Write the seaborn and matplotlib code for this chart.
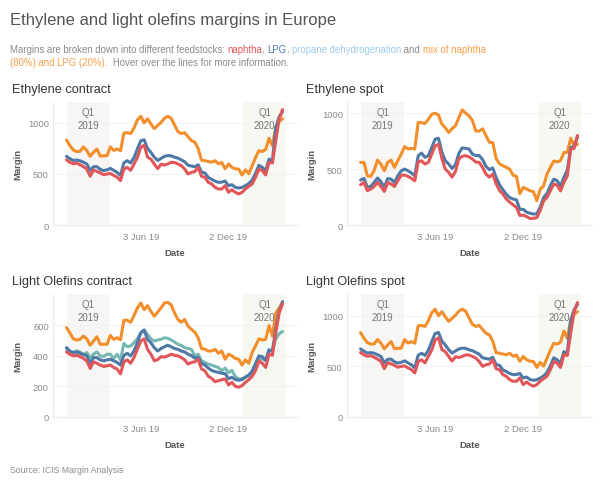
import matplotlib
matplotlib.use("Agg")
import matplotlib.pyplot as plt
from matplotlib.transforms import IdentityTransform
import pandas as pd
import seaborn as sns

sns.set_theme(style="white")
plt.rcParams["font.family"] = ["Liberation Sans", "DejaVu Sans"]

# ── Data (weekly margins) ────────────────────────────────────────────────────
weeks = pd.date_range("2018-12-31", periods=65, freq="7D")

eth_contract_mix = [
    833, 778, 735, 720, 722, 765, 730, 673, 712, 745, 675, 678, 680, 765, 730, 745,
    728, 900, 905, 895, 950, 1030, 1065, 1000, 1040, 990, 945, 975, 1005, 1045, 1065,
    1045, 980, 915, 895, 905, 865, 828, 812, 750, 635, 630, 622, 615, 630, 600, 612,
    550, 598, 565, 550, 548, 490, 540, 502, 580, 660, 728, 720, 740, 850, 778, 960,
    1015, 1040,
]
eth_contract_lpg = [
    673, 650, 632, 636, 630, 615, 598, 535, 570, 572, 545, 533, 540, 555, 535, 515,
    485, 610, 630, 608, 660, 745, 825, 835, 750, 712, 665, 632, 652, 672, 680,
    678, 664, 655, 638, 620, 585, 578, 570, 590, 518, 510, 465, 448, 430, 418, 420,
    430, 385, 395, 370, 362, 368, 385, 405, 440, 505, 585, 565, 530, 645, 630, 950,
    1060, 1110,
]
eth_contract_naphtha = [
    637, 614, 600, 606, 590, 572, 550, 478, 538, 525, 510, 492, 500, 505, 485, 468,
    435, 548, 565, 535, 598, 660, 760, 782, 665, 645, 598, 552, 595, 588, 598,
    614, 612, 598, 582, 549, 500, 516, 523, 565, 477, 467, 418, 402, 369, 353, 353,
    386, 320, 346, 320, 304, 320, 353, 379, 402, 467, 549, 533, 490, 614, 608, 827,
    1040, 1130,
]

eth_spot_mix = [
    560, 560, 440, 435, 488, 580, 545, 485, 560, 580, 515, 575, 635, 702, 680, 685,
    680, 917, 915, 908, 945, 990, 1000, 982, 902, 870, 827, 862, 888, 960, 1030,
    1000, 976, 935, 840, 840, 860, 800, 740, 738, 595, 548, 530, 515, 500, 445, 435,
    280, 336, 322, 306, 298, 218, 320, 350, 455, 515, 572, 565, 575, 649, 650, 775,
    710, 722,
]
eth_spot_lpg = [
    402, 417, 338, 345, 380, 420, 388, 336, 415, 410, 380, 440, 485, 500, 485, 465,
    440, 619, 643, 605, 620, 693, 768, 775, 650, 575, 545, 506, 540, 640, 690,
    685, 680, 634, 620, 622, 585, 525, 495, 510, 425, 360, 315, 275, 245, 232, 225,
    140, 140, 115, 105, 98, 100, 160, 245, 280, 350, 410, 396, 345, 426, 490, 693,
    700, 790,
]
eth_spot_naphtha = [
    360, 381, 307, 321, 345, 381, 345, 300, 380, 366, 345, 396, 446, 446, 435, 417,
    396, 565, 574, 545, 560, 634, 708, 722, 595, 500, 470, 428, 480, 590, 615,
    620, 610, 590, 562, 560, 515, 455, 428, 455, 368, 308, 277, 232, 205, 180, 158,
    85, 88, 75, 58, 60, 66, 130, 215, 247, 307, 366, 357, 305, 381, 440, 680,
    685, 800,
]

lo_contract_mix = [
    584, 551, 512, 504, 508, 530, 512, 470, 497, 525, 476, 476, 476, 534, 508, 519,
    504, 633, 633, 620, 664, 714, 746, 703, 729, 692, 659, 686, 714, 746, 750,
    735, 681, 638, 620, 638, 595, 573, 556, 519, 448, 443, 432, 432, 443, 417, 432,
    378, 411, 400, 383, 378, 340, 374, 352, 422, 465, 512, 504, 508, 599, 530, 681,
    714, 746,
]
lo_contract_lpg = [
    454, 432, 422, 426, 417, 411, 400, 352, 389, 389, 374, 368, 374, 378, 368, 357,
    340, 404, 417, 400, 432, 486, 551, 569, 508, 486, 454, 432, 448, 460, 470,
    460, 448, 443, 432, 426, 411, 402, 385, 390, 350, 340, 320, 305, 297, 292, 286,
    284, 250, 260, 245, 240, 245, 260, 275, 300, 350, 400, 395, 370, 440, 430, 580,
    690, 755,
]
lo_contract_naphtha = [
    426, 411, 400, 404, 396, 383, 368, 318, 361, 352, 340, 331, 335, 340, 324, 314,
    282, 361, 374, 352, 389, 443, 497, 512, 443, 411, 368, 375, 395, 392, 400,
    411, 404, 400, 389, 374, 346, 357, 361, 378, 314, 303, 266, 253, 231, 238, 244,
    249, 210, 227, 201, 195, 205, 227, 244, 266, 303, 368, 352, 324, 411, 404, 551,
    681, 742,
]
lo_contract_pdh = [
    448, 426, 422, 432, 426, 404, 422, 389, 411, 426, 400, 396, 411, 411, 383, 411,
    374, 482, 460, 465, 486, 512, 551, 569, 541, 512, 497, 504, 508, 519, 515,
    504, 491, 476, 469, 454, 448, 443, 400, 411, 368, 357, 346, 340, 331, 324, 303,
    320, 290, 305, 265, 250, 250, 262, 270, 290, 345, 385, 380, 370, 430, 440, 510,
    545, 560,
]

# light olefins spot tracks ethylene contract on the picture
lo_spot_mix = list(eth_contract_mix)
lo_spot_lpg = list(eth_contract_lpg)
lo_spot_naphtha = list(eth_contract_naphtha)

FEED_ORDER = ["mix", "pdh", "LPG", "naphtha"]
PALETTE = {"mix": "#f28e2b", "pdh": "#76b7b2", "LPG": "#4e79a7", "naphtha": "#e15759"}

W, H = 600, 489
GRAY = "#8a8a8a"


def fx(px):
    return px / W


def fy(py):
    return 1 - py / H


def to_long(series):
    frames = []
    for name, vals in series.items():
        frames.append(pd.DataFrame({"Date": weeks, "Margin": vals, "Feedstock": name}))
    return pd.concat(frames, ignore_index=True)


panels = [
    ("Ethylene contract", {"mix": eth_contract_mix, "LPG": eth_contract_lpg,
                           "naphtha": eth_contract_naphtha},
     (0, 1205), [0, 500, 1000], (53, 103, 297, 226)),
    ("Ethylene spot", {"mix": eth_spot_mix, "LPG": eth_spot_lpg,
                       "naphtha": eth_spot_naphtha},
     (0, 1100), [0, 500, 1000], (347, 103, 592, 226)),
    ("Light Olefins contract", {"mix": lo_contract_mix, "pdh": lo_contract_pdh,
                                "LPG": lo_contract_lpg, "naphtha": lo_contract_naphtha},
     (0, 805), [0, 200, 400, 600], (53, 295, 297, 418)),
    ("Light Olefins spot", {"mix": lo_spot_mix, "LPG": lo_spot_lpg,
                            "naphtha": lo_spot_naphtha},
     (0, 1215), [0, 500, 1000], (347, 295, 592, 418)),
]

fig = plt.figure(figsize=(W / 100, H / 100), dpi=100)
fig.patch.set_facecolor("white")

for title, series, ylim, yticks, (x0, y0, x1, y1) in panels:
    ax = fig.add_axes([fx(x0), fy(y1), (x1 - x0) / W, (y1 - y0) / H])
    df = to_long(series)
    order = [f for f in FEED_ORDER if f in series]

    ax.axvspan(pd.Timestamp("2019-01-01"), pd.Timestamp("2019-03-31"),
               color="#f8f6f5", zorder=0, lw=0)
    ax.axvspan(pd.Timestamp("2020-01-01"), pd.Timestamp("2020-03-31"),
               color="#f6f9f1", zorder=0, lw=0)
    for yt in yticks[1:]:
        ax.axhline(yt, color="#f2f2f2", lw=0.8, zorder=0.5)

    sns.lineplot(data=df, x="Date", y="Margin", hue="Feedstock", hue_order=order,
                 palette=PALETTE, linewidth=2.2, legend=False, ax=ax)

    ax.set_xlim(pd.Timestamp("2018-12-03"), pd.Timestamp("2020-04-22"))
    ax.set_ylim(*ylim)
    ax.set_yticks(yticks)
    ax.set_xticks([pd.Timestamp("2019-06-03"), pd.Timestamp("2019-12-02")])
    ax.set_xticklabels(["3 Jun 19", "2 Dec 19"])
    ax.tick_params(axis="x", length=3, width=0.6, color="#dddddd", pad=2,
                   labelsize=6.8, labelcolor=GRAY)
    ax.tick_params(axis="y", length=0, pad=3, labelsize=6.8, labelcolor=GRAY)
    ax.set_facecolor("white")
    for side in ["top", "right"]:
        ax.spines[side].set_visible(False)
    for side in ["left", "bottom"]:
        ax.spines[side].set_color("#ebebeb")
        ax.spines[side].set_linewidth(0.8)

    ax.set_ylabel("Margin", fontsize=6.8, fontweight="bold", color="#555555")
    ax.set_xlabel("Date", fontsize=6.8, fontweight="bold", color="#555555")
    ax.yaxis.set_label_coords(-31 / (x1 - x0), 0.5)
    ax.xaxis.set_label_coords(0.5, -23 / (y1 - y0))

    for start, end, label in [("2019-01-01", "2019-03-31", "Q1\n2019"),
                              ("2020-01-01", "2020-03-31", "Q1\n2020")]:
        mid = pd.Timestamp(start) + (pd.Timestamp(end) - pd.Timestamp(start)) / 2
        ax.annotate(label, xy=(mid, 1), xycoords=("data", "axes fraction"),
                    xytext=(0, -3.5), textcoords="offset points", ha="center",
                    va="top", fontsize=7, color="#777777", linespacing=1.35)

    fig.text(fx(x0 - 41), fy(y0 - 10), title, fontsize=9.2, color="#333333",
             va="baseline")

# ── Title, subtitle, source ──────────────────────────────────────────────────
fig.text(fx(10), fy(25), "Ethylene and light olefins margins in Europe",
         fontsize=12, color="#555555", va="baseline")

renderer = fig.canvas.get_renderer()
SUB_SIZE = 6.9


def text_width(s):
    t = fig.text(0, 0, s + "|", fontsize=SUB_SIZE)
    bar = fig.text(0, 0, "|", fontsize=SUB_SIZE)
    w = t.get_window_extent(renderer).width - bar.get_window_extent(renderer).width
    t.remove()
    bar.remove()
    return w


def colored_line(x_px, y_px, parts):
    prefix = ""
    for s, c in parts:
        fig.text(x_px + text_width(prefix), H - y_px, s, color=c,
                 fontsize=SUB_SIZE, va="baseline", transform=IdentityTransform())
        prefix += s


colored_line(10, 53, [
    ("Margins are broken down into different feedstocks: ", GRAY),
    ("naphtha", "#e15759"), (", ", GRAY), ("LPG", "#4e79a7"), (", ", GRAY),
    ("propane dehydrogenation", "#a0cbe8"), (" and ", GRAY),
    ("mix of naphtha", "#f7a04b"),
])
colored_line(10, 66, [
    ("(80%) and LPG (20%)", "#f7a04b"),
    (".  Hover over the lines for more information.", GRAY),
])

fig.text(fx(10), fy(473), "Source: ICIS Margin Analysis", fontsize=6.3,
         color=GRAY, va="baseline")

fig.savefig("out.png", dpi=100, facecolor="white")
